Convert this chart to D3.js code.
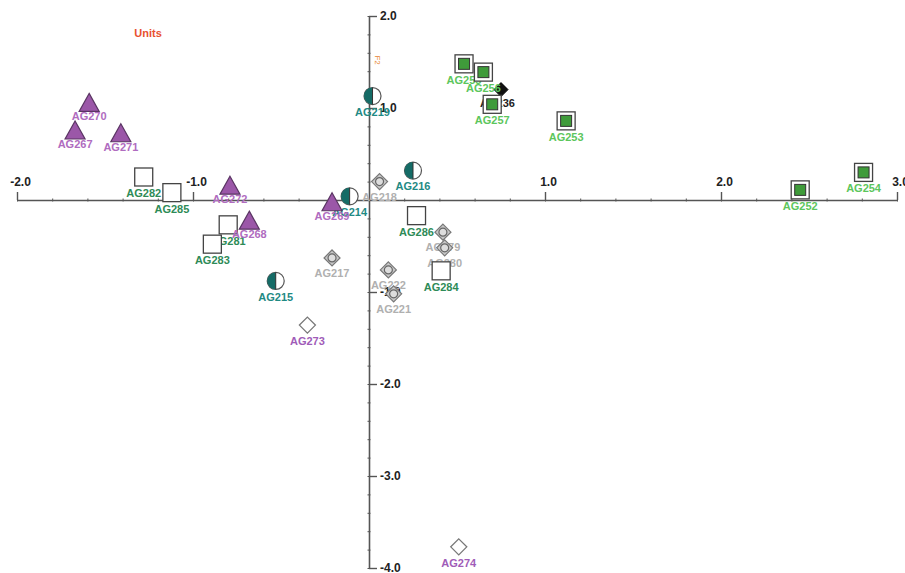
<!DOCTYPE html>
<html><head><meta charset="utf-8">
<script src="https://cdn.jsdelivr.net/npm/d3@7"></script>
<style>
html,body{margin:0;padding:0;background:#fff;}
svg{display:block;font-family:"Liberation Sans",Arial,sans-serif;}
</style></head>
<body><svg id="c" width="905" height="573"></svg>
<script>
// ---- data ----
const triangles = [
  {id:"AG270", x:-1.59, y:1.05},
  {id:"AG267", x:-1.67, y:0.75},
  {id:"AG271", x:-1.41, y:0.72},
  {id:"AG272", x:-0.79, y:0.15},
  {id:"AG268", x:-0.68, y:-0.23},
  {id:"AG269", x:-0.21, y:-0.03}
];
const emptySquares = [
  {id:"AG282", x:-1.28, y:0.25},
  {id:"AG285", x:-1.12, y:0.08},
  {id:"AG281", x:-0.80, y:-0.27},
  {id:"AG283", x:-0.89, y:-0.48},
  {id:"AG286", x:0.27, y:-0.17},
  {id:"AG284", x:0.41, y:-0.77}
];
const halfCircles = [
  {id:"AG219", x:0.02, y:1.13},
  {id:"AG216", x:0.25, y:0.32},
  {id:"AG214", x:-0.11, y:0.04},
  {id:"AG215", x:-0.53, y:-0.88}
];
const grayDiamonds = [
  {id:"AG218", x:0.06, y:0.20},
  {id:"AG217", x:-0.21, y:-0.63},
  {id:"AG222", x:0.11, y:-0.76},
  {id:"AG221", x:0.14, y:-1.02},
  {id:"AG279", x:0.42, y:-0.35},
  {id:"AG280", x:0.43, y:-0.52}
];
const emptyDiamonds = [
  {id:"AG273", x:-0.35, y:-1.36},
  {id:"AG274", x:0.51, y:-3.77}
];
const blackDiamonds = [
  {id:"AG236", x:0.75, y:1.20}
];
const greenSquares = [
  {id:"AG255", x:0.54, y:1.48},
  {id:"AG256", x:0.65, y:1.39},
  {id:"AG257", x:0.70, y:1.04},
  {id:"AG253", x:1.12, y:0.86},
  {id:"AG254", x:2.81, y:0.30},
  {id:"AG252", x:2.45, y:0.11}
];
const xTicks = [-2, -1, 1, 2, 3];
const yTicks = [2, 1, -1, -2, -3, -4];
const unitsLabel = "Units";
const yTitle = "F2";

// ---- scales ----
const svg = d3.select("#c");
const x = d3.scaleLinear().domain([-2, 3]).range([17, 897]);
const y = d3.scaleLinear().domain([-4, 2]).range([568, 16]);
const fmt = v => v.toFixed(1);
const axisColor = "#555";

// minor ticks
const xMinor = d3.range(-2, 3.001, 0.2).map(v => +v.toFixed(1));
const yMinor = d3.range(-4, 2.001, 0.2).map(v => +v.toFixed(1));

const gxm = svg.append("g").attr("transform", `translate(0,${y(0)})`)
  .call(d3.axisTop(x).tickValues(xMinor).tickSize(3).tickFormat(""));
gxm.selectAll("line").attr("transform","translate(0,1.5)").attr("stroke", axisColor);
gxm.select(".domain").remove();
const gym = svg.append("g").attr("transform", `translate(${x(0)},0)`)
  .call(d3.axisLeft(y).tickValues(yMinor).tickSize(3).tickFormat(""));
gym.selectAll("line").attr("transform","translate(1.5,0)").attr("stroke", axisColor);
gym.select(".domain").remove();

// major axes
const gx = svg.append("g").attr("transform", `translate(0,${y(0)})`)
  .call(d3.axisTop(x).tickValues(xTicks).tickSize(8).tickSizeOuter(0).tickPadding(6).tickFormat(fmt));
gx.select(".domain").attr("stroke", axisColor).attr("stroke-width", 1.6);
gx.selectAll("line").attr("stroke", axisColor).attr("stroke-width", 1.4);
gx.selectAll("text").attr("fill", "#222").attr("font-size", 12).attr("font-weight", "bold").attr("dx", 3);

const gy = svg.append("g").attr("transform", `translate(${x(0)},0)`)
  .call(d3.axisRight(y).tickValues(yTicks).tickSize(8).tickSizeOuter(0).tickPadding(3).tickFormat(fmt));
gy.select(".domain").attr("stroke", axisColor).attr("stroke-width", 1.6);
gy.selectAll("line").attr("stroke", axisColor).attr("stroke-width", 1.4);
gy.selectAll("text").attr("fill", "#222").attr("font-size", 12).attr("font-weight", "bold");

// titles
svg.append("text").attr("x", 148).attr("y", 37).attr("text-anchor", "middle")
  .attr("fill", "#e8512f").attr("font-size", 11).attr("font-weight", "bold").text(unitsLabel);
svg.append("text").attr("transform", `translate(${x(0)+6},${y(1.52)}) rotate(90)`)
  .attr("text-anchor", "middle").attr("fill", "#e8862f").attr("font-size", 8).text(yTitle);

const labFont = 11;
function labels(data, color, dy=16, dx=0) {
  svg.append("g").selectAll("text").data(data).join("text")
    .attr("x", d => x(d.x) + dx).attr("y", d => y(d.y) + dy)
    .attr("text-anchor", "middle").attr("dominant-baseline", "middle")
    .attr("font-size", labFont).attr("font-weight", "bold").attr("fill", color)
    .text(d => d.id);
}

// black diamond (drawn first, partly covered)
labels(blackDiamonds, "#222", 14, -3.5);
svg.append("g").selectAll("path").data(blackDiamonds).join("path")
  .attr("transform", d => `translate(${x(d.x)},${y(d.y)})`)
  .attr("d", "M0,-7L7,0L0,7L-7,0Z").attr("fill", "#111").attr("stroke", "#000");

// gray diamonds with circles
labels(grayDiamonds, "#b0b0b0");
const gd = svg.append("g").selectAll("g").data(grayDiamonds).join("g")
  .attr("transform", d => `translate(${x(d.x)},${y(d.y)})`);
gd.append("path").attr("d", "M0,-8L8,0L0,8L-8,0Z").attr("fill", "#c8c8c8").attr("stroke", "#777").attr("stroke-width", 1.2);
gd.append("circle").attr("r", 4).attr("fill", "#ddd").attr("stroke", "#666").attr("stroke-width", 1.2);

// empty diamonds
labels(emptyDiamonds, "#a05cb8", 17);
svg.append("g").selectAll("path").data(emptyDiamonds).join("path")
  .attr("transform", d => `translate(${x(d.x)},${y(d.y)})`)
  .attr("d", "M0,-8L8,0L0,8L-8,0Z").attr("fill", "#fff").attr("stroke", "#777").attr("stroke-width", 1.3);

// empty squares
labels(emptySquares, "#2e8b57", 17);
svg.append("g").selectAll("rect").data(emptySquares).join("rect")
  .attr("x", d => x(d.x) - 9).attr("y", d => y(d.y) - 9).attr("width", 18).attr("height", 18)
  .attr("fill", "#fff").attr("stroke", "#444").attr("stroke-width", 1.3);

// half circles
labels(halfCircles, "#1f8a84", 17);
const hc = svg.append("g").selectAll("g").data(halfCircles).join("g")
  .attr("transform", d => `translate(${x(d.x)},${y(d.y)})`);
hc.append("circle").attr("r", 8.5).attr("fill", "#fff").attr("stroke", "#555").attr("stroke-width", 1.2);
hc.append("path").attr("d", "M0,-8.5A8.5,8.5 0 0 0 0,8.5Z").attr("fill", "#156b66");
hc.append("line").attr("y1", -8.5).attr("y2", 8.5).attr("stroke", "#333").attr("stroke-width", 1);

// triangles
labels(triangles, "#b06cc0", 14);
svg.append("g").selectAll("path").data(triangles).join("path")
  .attr("transform", d => `translate(${x(d.x)},${y(d.y)})`)
  .attr("d", "M0,-10L10,8L-10,8Z").attr("fill", "#9b57a8").attr("stroke", "#5a3563").attr("stroke-width", 1.2);

// green double squares
labels(greenSquares, "#5cc65c", 17);
const gs = svg.append("g").selectAll("g").data(greenSquares).join("g")
  .attr("transform", d => `translate(${x(d.x)},${y(d.y)})`);
gs.append("rect").attr("x", -9).attr("y", -9).attr("width", 18).attr("height", 18)
  .attr("fill", "#fff").attr("stroke", "#444").attr("stroke-width", 1.3);
gs.append("rect").attr("x", -5.5).attr("y", -5.5).attr("width", 11).attr("height", 11)
  .attr("fill", "#3f9b3a").attr("stroke", "#333").attr("stroke-width", 1);
</script></body></html>
